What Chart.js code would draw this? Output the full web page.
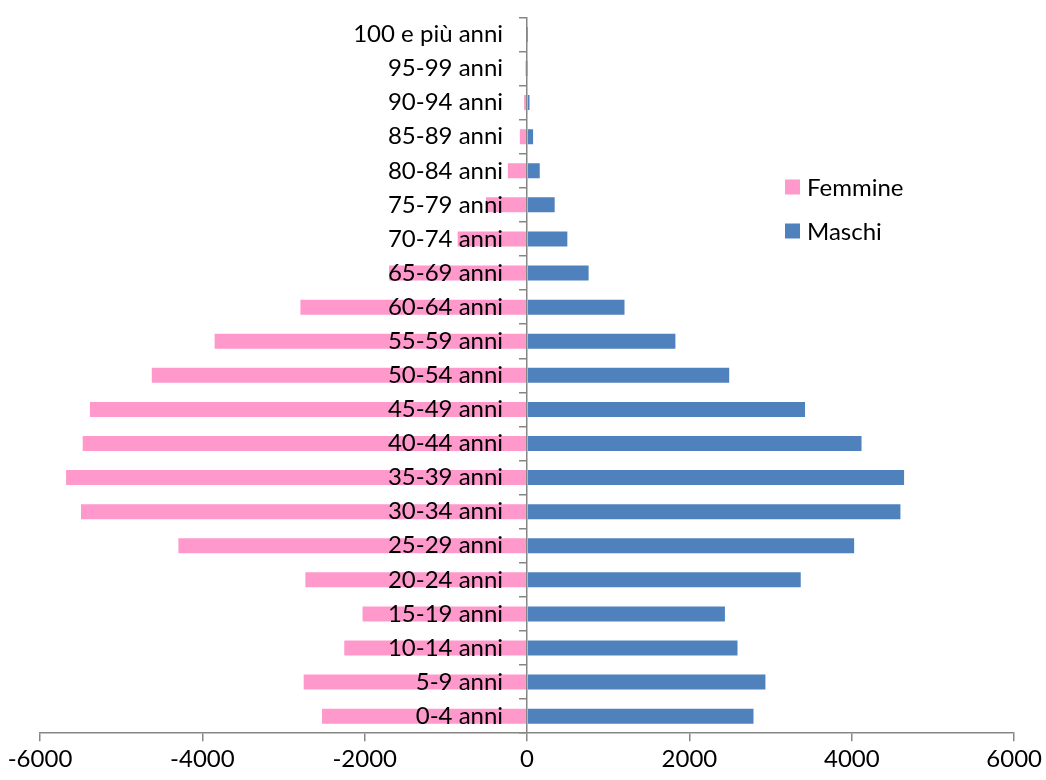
<!DOCTYPE html>
<html>
<head>
<meta charset="utf-8">
<title>Popolazione per classi di età</title>
<script src="https://cdn.jsdelivr.net/npm/chart.js@4/dist/chart.umd.min.js"></script>
<style>
  html, body { margin: 0; padding: 0; background: #fff; }
  #wrap { position: relative; width: 1046px; height: 780px; }
</style>
</head>
<body>
<div id="wrap"><canvas id="pyramid"></canvas></div>
<script>
/* classi di età, dal basso verso l'alto */
var AGES = ['0-4 anni', '5-9 anni', '10-14 anni', '15-19 anni', '20-24 anni', '25-29 anni',
  '30-34 anni', '35-39 anni', '40-44 anni', '45-49 anni', '50-54 anni', '55-59 anni',
  '60-64 anni', '65-69 anni', '70-74 anni', '75-79 anni', '80-84 anni', '85-89 anni',
  '90-94 anni', '95-99 anni', '100 e più anni'];

// femmine a sinistra (valori negativi), maschi a destra
var FEMMINE = [-2526, -2752, -2252, -2027, -2731, -4295, -5495, -5679, -5474, -5385, -4623,
  -3849, -2792, -1700, -855, -507, -237, -89, -37, -20, -2];
var MASCHI = [2789, 2936, 2592, 2437, 3371, 4029, 4599, 4644, 4120, 3424, 2490,
  1827, 1200, 758, 496, 340, 156, 74, 30, 5, 1];

var X_MIN = -6000, X_MAX = 6000, X_STEP = 2000;
var LABEL_SHIFT = -295;   // etichette spostate un po' a sinistra dello zero

var FONT = 'Lato, "Open Sans", sans-serif';
var AXIS = '#868686';
var PINK = '#FF99CC', BLUE = '#4F81BD';

/* legenda disegnata a mano dentro l'area del grafico */
var sideLegend = {
  id: 'sideLegend',
  afterDraw: function (chart) {
    var ctx = chart.ctx;
    ctx.save();
    ctx.font = '24px ' + FONT;
    ctx.textAlign = 'left'; ctx.textBaseline = 'middle';
    chart.data.datasets.forEach(function (ds, i) {
      var y = 187 + i * 44;
      ctx.fillStyle = ds.backgroundColor;
      ctx.fillRect(785, y - 7.5, 15, 15);
      ctx.fillStyle = '#000';
      ctx.fillText(ds.label, 807, y + 1);
    });
    ctx.restore();
  }
};

new Chart(document.getElementById('pyramid'), {
  type: 'bar',
  data: {
    labels: AGES,
    datasets: [
      { label: 'Femmine', data: FEMMINE, backgroundColor: PINK, categoryPercentage: 1, barPercentage: 0.44 },
      { label: 'Maschi', data: MASCHI, backgroundColor: BLUE, categoryPercentage: 1, barPercentage: 0.44 }
    ]
  },
  options: {
    indexAxis: 'y',
    responsive: true, maintainAspectRatio: false,
    animation: false,
    layout: { padding: { left: 40, right: 30, top: 11, bottom: 2 } },
    plugins: { legend: { display: false }, tooltip: { enabled: false } },
    scales: {
      x: {
        stacked: true, min: X_MIN, max: X_MAX,
        border: { color: AXIS, width: 1.5 },
        grid: { drawOnChartArea: false, drawTicks: true, tickLength: 8, color: AXIS, lineWidth: 1.5 },
        ticks: {
          stepSize: X_STEP, color: '#000', padding: 4, maxRotation: 0,
          font: { family: FONT, size: 24 },
          callback: function (v) { return String(v); }
        }
      },
      y: {
        stacked: true, reverse: true, position: { x: 0 },
        border: { color: AXIS, width: 1.5, z: 1 },
        grid: { drawOnChartArea: false, tickLength: 7, color: AXIS, lineWidth: 1.5, z: 1 },
        ticks: { display: false }
      },
      yLabels: {
        type: 'category', axis: 'y', labels: AGES, reverse: true, offset: true,
        position: { x: LABEL_SHIFT },
        border: { display: false },
        grid: { display: false },
        ticks: { color: '#000', autoSkip: false, z: 2, font: { family: FONT, size: 24 } }
      }
    }
  },
  plugins: [sideLegend]
});
</script>
</body>
</html>
